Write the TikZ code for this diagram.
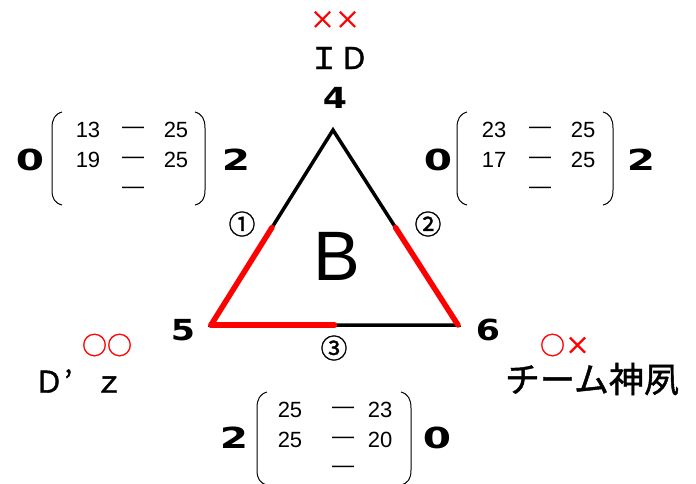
\documentclass[tikz,border=0pt]{standalone}
\usepackage{fontspec}
\setmainfont{Liberation Sans}
\newfontfamily\jpfont{Noto Sans CJK JP}[FakeBold=1.2]
\newfontfamily\heavyfont{DejaVu Sans}
\usetikzlibrary{calc}
\tikzset{
  vert/.style={font=\heavyfont\bfseries\fontsize{29}{29}\selectfont,xscale=1.2,transform shape},
  sets/.style={font=\heavyfont\bfseries\fontsize{29}{29}\selectfont,xscale=1.4,transform shape},
  pts/.style={font=\fontsize{22}{22}\selectfont,inner sep=0pt},
  team/.style={font=\jpfont\fontsize{30}{30}\selectfont},
  resmark/.style={font=\jpfont\fontsize{25}{25}\selectfont,text=red},
  matchno/.style={font=\jpfont\fontsize{27}{27}\selectfont},
  edge/.style={line width=3.5pt,line cap=round},
  won/.style={line width=5.5pt,red,line cap=round},
  paren/.style={line width=1pt}
}
\begin{document}
\begin{tikzpicture}[x=1pt,y=-1pt]
  \useasboundingbox[fill=white] (0,0) rectangle (696,483);

  % triangle
  \coordinate (v4) at (333,130);
  \coordinate (v5) at (211,325);
  \coordinate (v6) at (458,325);
  \draw[edge] (v4)--(v5)--(v6)--cycle;
  \draw[won] (v5)--($(v5)!0.5!(v4)$);
  \draw[won] (v6)--($(v6)!0.5!(v4)$);
  \draw[won] (v5)--($(v5)!0.5!(v6)$);

  \node[font=\fontsize{70}{70}\selectfont] (blk) at (337,256) {B};
  \node[vert] (n4) at (335,98) {4};
  \node[vert] (n5) at (183,330) {5};
  \node[vert] (n6) at (488,330) {6};
  \node[matchno] (m1) at (242,224) {①};
  \node[matchno] (m2) at (428,224) {②};
  \node[matchno] (m3) at (334,348) {③};

  % teams
  \node[resmark] (r4) at (335,20) {××};
  \node[team] (t4) at (339,58) {ＩＤ};
  \node[resmark] (r5) at (107,345) {○○};
  \node[team] (t5) at (79,381) {Ｄ\makebox[30pt][l]{’}ｚ};
  \node[resmark] (r6) at (565,345) {○×};
  \node[font=\jpfont\fontsize{35}{35}\selectfont] (t6) at (592,379) {チーム神夙};

  % 4-5
  \node[sets] (s45a) at (30,160) {0};
  \node[sets] (s45b) at (236,160) {2};
  \draw[paren] (62,112) .. controls (55,114) and (52,119) .. (52,128) -- (52,190) .. controls (52,199) and (55,203) .. (62,205);
  \draw[paren] (195,112) .. controls (202,114) and (205,119) .. (205,128) -- (205,190) .. controls (205,199) and (202,203) .. (195,205);
  \node[pts] (a1) at (88,130) {13};
  \node[pts] (a2) at (133,130) {—};
  \node[pts] (a3) at (176,130) {25};
  \node[pts] (a4) at (88,160) {19};
  \node[pts] (a5) at (133,160) {—};
  \node[pts] (a6) at (176,160) {25};
  \node[pts] (a7) at (133,190) {—};

  % 4-6
  \node[sets] (s46a) at (438,160) {0};
  \node[sets] (s46b) at (641,160) {2};
  \draw[paren] (467,112) .. controls (460,114) and (457,119) .. (457,128) -- (457,190) .. controls (457,199) and (460,203) .. (467,205);
  \draw[paren] (603,112) .. controls (610,114) and (613,119) .. (613,128) -- (613,190) .. controls (613,199) and (610,203) .. (603,205);
  \node[pts] (b1) at (494,130) {23};
  \node[pts] (b2) at (540,130) {—};
  \node[pts] (b3) at (583,130) {25};
  \node[pts] (b4) at (494,160) {17};
  \node[pts] (b5) at (540,160) {—};
  \node[pts] (b6) at (583,160) {25};
  \node[pts] (b7) at (540,190) {—};

  % 5-6
  \node[sets] (s56a) at (234,438) {2};
  \node[sets] (s56b) at (437,438) {0};
  \draw[paren] (267,392) .. controls (260,394) and (257,399) .. (257,408) -- (257,470) .. controls (257,479) and (260,483) .. (267,485);
  \draw[paren] (401,392) .. controls (408,394) and (411,399) .. (411,408) -- (411,470) .. controls (411,479) and (408,483) .. (401,485);
  \node[pts] (c1) at (290,410) {25};
  \node[pts] (c2) at (343,410) {—};
  \node[pts] (c3) at (380,410) {23};
  \node[pts] (c4) at (290,440) {25};
  \node[pts] (c5) at (343,440) {—};
  \node[pts] (c6) at (380,440) {20};
  \node[pts] (c7) at (343,469) {—};
\end{tikzpicture}
\end{document}
